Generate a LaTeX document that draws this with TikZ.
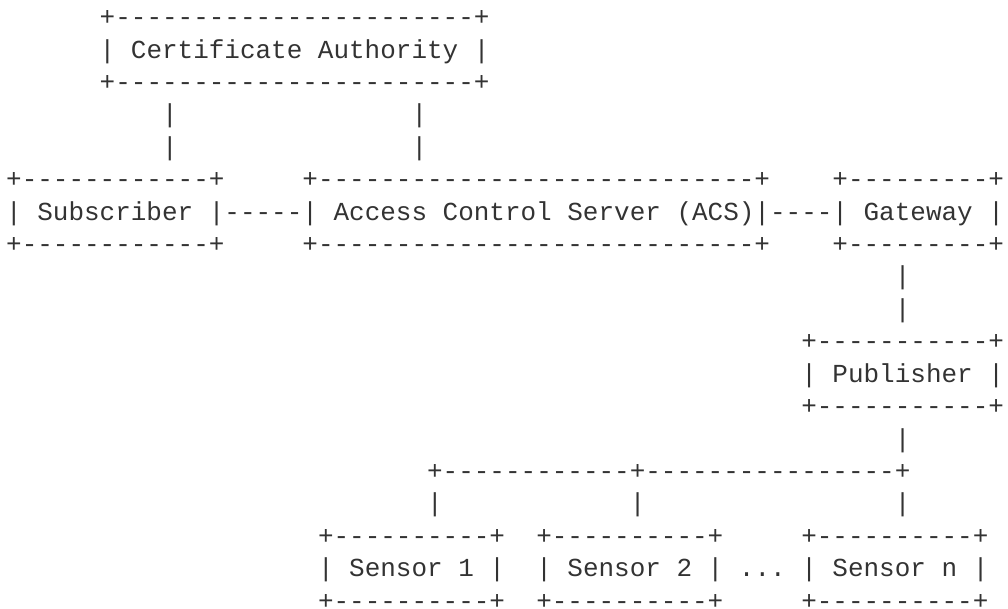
\documentclass[tikz,border=0pt]{standalone}
\usepackage{fontspec}
\setmonofont{Liberation Mono}
\definecolor{ink}{HTML}{333333}
\tikzset{
  txt/.style={anchor=base west, inner sep=0pt, outer sep=0pt, text=ink,
    font=\ttfamily\fontsize{25.98pt}{32.4pt}\selectfont}
}
\begin{document}
\begin{tikzpicture}
\useasboundingbox (0pt,0pt) rectangle (1008pt,-609pt);
\begin{scope}[shift={(6.2pt,-25.8pt)}, x=15.59pt, y=-32.4pt]
% Certificate Authority
\node[txt] (caTop) at (6,0) {+-----------------------+};
\node[txt] (ca)    at (6,1) {| Certificate Authority |};
\node[txt] (caBot) at (6,2) {+-----------------------+};
% links CA -> Subscriber / ACS
\node[txt] (l1a) at (10,3) {|};
\node[txt] (l1b) at (10,4) {|};
\node[txt] (l2a) at (26,3) {|};
\node[txt] (l2b) at (26,4) {|};
% Subscriber
\node[txt] (subTop) at (0,5) {+------------+};
\node[txt] (sub)    at (0,6) {| Subscriber |};
\node[txt] (subBot) at (0,7) {+------------+};
\node[txt] (subAcs) at (14,6) {-----};
% ACS
\node[txt] (acsTop) at (19,5) {+----------------------------+};
\node[txt] (acs)    at (19,6) {| Access Control Server (ACS)|};
\node[txt] (acsBot) at (19,7) {+----------------------------+};
\node[txt] (acsGw)  at (49,6) {----};
% Gateway
\node[txt] (gwTop) at (53,5) {+---------+};
\node[txt] (gw)    at (53,6) {| Gateway |};
\node[txt] (gwBot) at (53,7) {+---------+};
\node[txt] (gwPa) at (57,8) {|};
\node[txt] (gwPb) at (57,9) {|};
% Publisher
\node[txt] (pubTop) at (51,10) {+-----------+};
\node[txt] (pub)    at (51,11) {| Publisher |};
\node[txt] (pubBot) at (51,12) {+-----------+};
\node[txt] (pubBus) at (57,13) {|};
% bus
\node[txt] (bus) at (27,14) {+------------+----------------+};
\node[txt] (bs1) at (27,15) {|};
\node[txt] (bs2) at (40,15) {|};
\node[txt] (bsn) at (57,15) {|};
% Sensors
\node[txt] (s1Top) at (20,16) {+----------+};
\node[txt] (s1)    at (20,17) {| Sensor 1 |};
\node[txt] (s1Bot) at (20,18) {+----------+};
\node[txt] (s2Top) at (34,16) {+----------+};
\node[txt] (s2)    at (34,17) {| Sensor 2 |};
\node[txt] (s2Bot) at (34,18) {+----------+};
\node[txt] (dots)  at (47,17) {...};
\node[txt] (snTop) at (51,16) {+----------+};
\node[txt] (sn)    at (51,17) {| Sensor n |};
\node[txt] (snBot) at (51,18) {+----------+};
\end{scope}
\end{tikzpicture}
\end{document}
